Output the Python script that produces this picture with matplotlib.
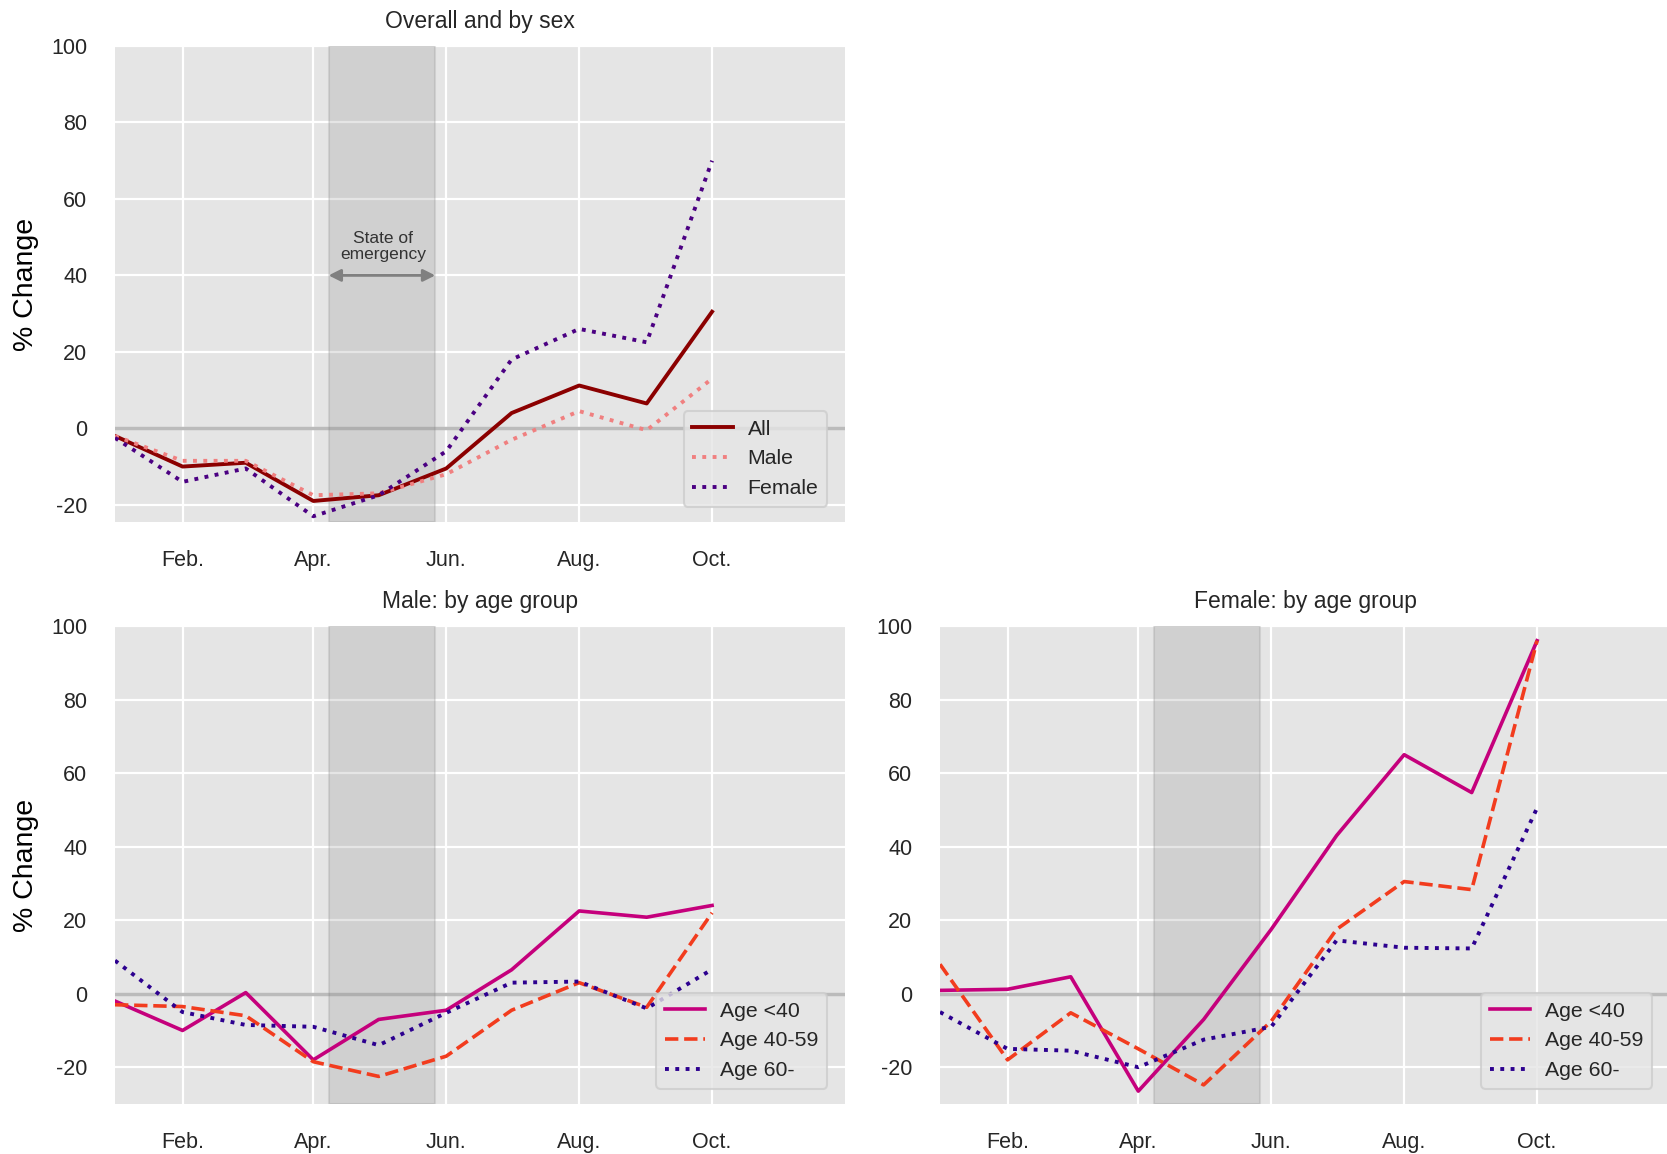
import numpy as np
import pandas as pd
import matplotlib
matplotlib.use('Agg')
import matplotlib.pyplot as plt

plt.rcParams['font.family'] = ['Liberation Sans', 'DejaVu Sans']
plt.rcParams['text.color'] = '#262626'
plt.rcParams['xtick.color'] = '#262626'
plt.rcParams['ytick.color'] = '#262626'
plt.rcParams['axes.unicode_minus'] = False

months = pd.date_range('2020-01-01', periods=10, freq='MS')
tick_months = ['2020-02-01', '2020-04-01', '2020-06-01', '2020-08-01', '2020-10-01']
tick_labels = ['Feb.', 'Apr.', 'Jun.', 'Aug.', 'Oct.']
emergency = ('2020-04-08', '2020-05-27')

# overall and by sex
all_chg = [-2, -10, -9, -19, -17.5, -10.5, 4, 11.2, 6.5, 30.5]
male_chg = [-2, -8.5, -8.5, -17.5, -17, -12, -3, 4.5, -0.5, 13]
female_chg = [-2.5, -14, -10.5, -23, -17.5, -6, 18, 26, 22.5, 70]

# male by age group
male_u40 = [-2, -10, 0.3, -18, -7, -4.5, 6.5, 22.5, 20.8, 24]
male_40_59 = [-3, -3.5, -6, -18.5, -22.5, -17, -4.5, 3, -3.7, 22]
male_60 = [9, -5, -8.5, -9, -14, -5.2, 3, 3.3, -4, 6.6]

# female by age group
female_u40 = [0.9, 1.2, 4.6, -26.5, -7, 17.5, 43, 65, 54.7, 96]
female_40_59 = [8, -18, -5.2, -15, -24.8, -7.5, 17.5, 30.5, 28.3, 96]
female_60 = [-5, -15, -15.5, -20, -12.5, -9, 14.5, 12.5, 12.3, 50.5]

W, H = 1667, 1154
fig = plt.figure(figsize=(W / 100, H / 100), dpi=100)


def make_axes(x0, y0, x1, y1, title, ylim):
    ax = fig.add_axes([x0 / W, 1 - y1 / H, (x1 - x0) / W, (y1 - y0) / H])
    ax.set_facecolor('#e5e5e5')
    for s in ax.spines.values():
        s.set_visible(False)
    ax.set_xlim(pd.Timestamp('2020-01-01'), pd.Timestamp('2020-12-01'))
    ax.set_ylim(*ylim)
    ax.set_xticks(pd.to_datetime(tick_months))
    ax.set_xticklabels(tick_labels)
    ax.set_yticks(np.arange(-20, 101, 20))
    ax.tick_params(axis='x', length=0, pad=20, labelsize=15.5)
    ax.tick_params(axis='y', length=0, pad=20, labelsize=15.5)
    ax.grid(True, color='white', lw=1.6)
    ax.set_axisbelow(True)
    ax.set_title(title, fontsize=16.5, pad=13)
    ax.axhline(0, color='#bbbbbb', lw=2.5, zorder=1)
    ax.axvspan(pd.Timestamp(emergency[0]), pd.Timestamp(emergency[1]),
               color='grey', alpha=0.2, lw=1.5, zorder=1)
    return ax


ax1 = make_axes(115, 46, 845, 522, 'Overall and by sex', (-24.5, 100))
ax2 = make_axes(115, 626, 845, 1104, 'Male: by age group', (-30, 100))
ax3 = make_axes(940, 626, 1670, 1104, 'Female: by age group', (-30, 100))

ax1.plot(months, all_chg, '-', color='darkred', lw=2.8, label='All')
ax1.plot(months, male_chg, ':', color='lightcoral', lw=2.8, label='Male')
ax1.plot(months, female_chg, ':', color='indigo', lw=2.8, label='Female')

ax1.annotate('', xy=(pd.Timestamp(emergency[0]), 40), xytext=(pd.Timestamp(emergency[1]), 40),
             arrowprops=dict(arrowstyle='<|-|>', color='grey', lw=2, mutation_scale=18,
                             shrinkA=0, shrinkB=0))
ax1.text(pd.Timestamp('2020-05-03'), 43.5, 'State of\nemergency', ha='center', va='bottom',
         fontsize=12.5, color='#333333', linespacing=1.05)

for ax, u40, a40, a60 in [(ax2, male_u40, male_40_59, male_60),
                          (ax3, female_u40, female_40_59, female_60)]:
    ax.plot(months, u40, '-', color='#c5007c', lw=2.6, label='Age <40')
    ax.plot(months, a40, '--', color='#f23c1e', lw=2.6, label='Age 40-59')
    ax.plot(months, a60, ':', color='#2c008f', lw=2.8, label='Age 60-')

for ax in (ax1, ax2, ax3):
    leg = ax.legend(loc='lower right', fontsize=15.3, frameon=True, borderpad=0.4,
                    labelspacing=0.5, handlelength=1.9, handletextpad=0.7,
                    bbox_to_anchor=(0.99, 0.01))
    leg.get_frame().set_facecolor('#e5e5e5')
    leg.get_frame().set_edgecolor('#cccccc')
    leg.get_frame().set_linewidth(1.5)

for ax in (ax1, ax2):
    ax.set_ylabel('% Change', fontsize=20.5)
    ax.yaxis.set_label_coords(-0.104, 0.5)

fig.savefig('out.png', dpi=100)
